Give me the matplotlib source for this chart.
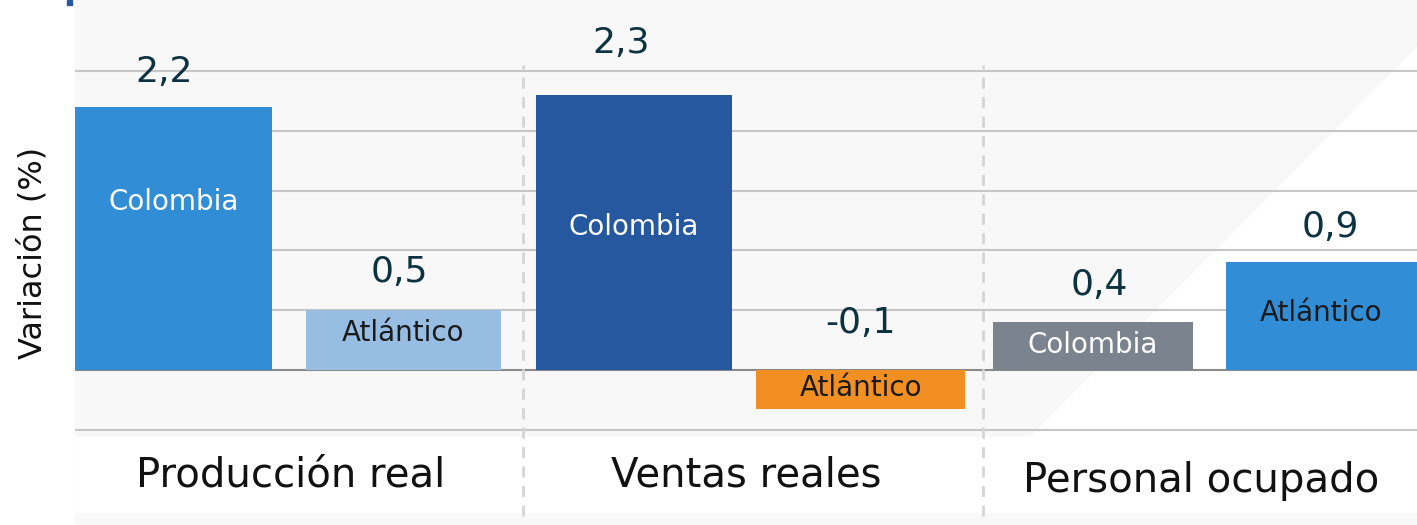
import matplotlib.pyplot as plt
from matplotlib.patches import Polygon, Rectangle

# datos
categorias = ["Producción real", "Ventas reales", "Personal ocupado"]
series = ["Colombia", "Atlántico", "Colombia", "Atlántico", "Colombia", "Atlántico"]
valores = [2.2, 0.5, 2.3, -0.1, 0.4, 0.9]
etiquetas = ["2,2", "0,5", "2,3", "-0,1", "0,4", "0,9"]
# the -0,1 bar is drawn taller than its value in the original
alto_barra = [2.2, 0.5, 2.3, -0.33, 0.4, 0.9]
colores = ["#318dd5", "#98bde3", "#25589e", "#f18f23", "#7a838e", "#318dd5"]

W, H = 1417, 525
plt.rcParams["font.family"] = ["DejaVu Sans"]
fig = plt.figure(figsize=(W / 100, H / 100), dpi=100)
fig.patch.set_facecolor("white")

# fondo gris claro con franja blanca diagonal
fondo = [
    Rectangle((75 / W, 0), 1, 1, color="#f8f8f8"),
    Rectangle((75 / W, 1 - 512 / H), 1, 75 / H, color="white"),
    Polygon([(1, 1 - 47 / H), (1, 1 - 437 / H), (1030 / W, 1 - 437 / H)], closed=True,
            color="white"),
]
for p in fondo:
    p.set_transform(fig.transFigure)
    p.set_zorder(-10)
    fig.patches.append(p)
marca = Rectangle((67 / W, 1 - 5 / H), 5 / W, 5 / H, transform=fig.transFigure,
                  color="#25589e", zorder=-5)
fig.patches.append(marca)

ax = fig.add_axes([75 / W, 0, 1342 / W, 1])
ax.set_facecolor("none")
ax.set_xlim(-0.475, 2.475)
ax.set_ylim(-155 / 119.5, 370 / 119.5)

ax.set_yticks([-0.5, 0.5, 1.0, 1.5, 2.0, 2.5])
ax.grid(axis="y", color="#c6c6c6", linewidth=1.5)
ax.set_axisbelow(True)
ax.axhline(0, color="#8a8a8a", linewidth=1.5, zorder=1)
ax.set_xticks([])
ax.tick_params(left=False, labelleft=False)
for s in ax.spines.values():
    s.set_visible(False)

# posición de cada barra dentro de su grupo
desp = [-0.258, 0.247, -0.246, 0.252, -0.237, 0.265]
anchos = [0.433, 0.43, 0.43, 0.459, 0.44, 0.42]
grupo = [0, 0, 1, 1, 2, 2]
pos = [grupo[i] + desp[i] for i in range(len(valores))]

ax.bar(pos, alto_barra, width=anchos, color=colores, zorder=2)

# etiquetas de valor y de serie
y_valor = [2.49, 0.82, 2.74, 0.39, 0.71, 1.2]
dx_valor = [-0.022, -0.008, -0.028, 0.0, 0.013, 0.02]
y_serie = [1.41, 0.31, 1.2, -0.15, 0.21, 0.48]
for i in range(len(valores)):
    ax.text(pos[i] + dx_valor[i], y_valor[i], etiquetas[i], ha="center", va="center",
            fontsize=26, color="#0d3341", zorder=3)
    ax.text(pos[i], y_serie[i], series[i], ha="center", va="center", fontsize=20,
            color="white" if series[i] == "Colombia" else "#1a1a1a", zorder=3)

y_cat = [-0.88, -0.88, -0.93]
for g, c in enumerate(categorias):
    ax.text(g, y_cat[g], c, ha="center", va="center", fontsize=29, color="#111111")

# separadores
ax.vlines([0.51, 1.52], -1.22, 2.55, colors="#d5d5d5", linewidth=2,
          linestyles=(0, (4, 3)), zorder=1)

fig.text(33 / W, 1 - 253 / H, "Variación (%)", rotation=90, ha="center", va="center",
         fontsize=23, color="#111111")

fig.savefig("out.png", dpi=100)
